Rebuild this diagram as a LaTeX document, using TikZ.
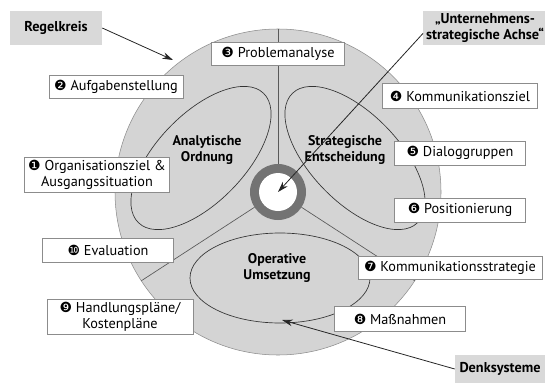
\documentclass[tikz,border=0pt]{standalone}
\usepackage{fontspec}
\setmainfont{PT Sans}
\newfontfamily\dingfont{DejaVu Sans}
\usepackage{tikz}
\usetikzlibrary{arrows.meta}

\newcommand{\nr}[1]{{\dingfont\fontsize{10.5}{11}\selectfont #1}}

\tikzset{
  kasten/.style={draw=black!45, fill=white, align=center, inner sep=2pt,
    font=\fontsize{10.7}{12}\selectfont},
  graukasten/.style={fill=black!15, align=center, inner sep=2pt,
    font=\bfseries\fontsize{10.7}{12}\selectfont},
  innen/.style={align=center, font=\bfseries\fontsize{10.5}{11.5}\selectfont},
  teiler/.style={draw=black!65, line width=0.5pt},
  pfeil/.style={-{Stealth[length=8pt,width=5pt]}, draw=black!85, line width=0.6pt},
}

\begin{document}
\begin{tikzpicture}[x=0.75pt,y=0.75pt]
\useasboundingbox (0,0) rectangle (545,383);

\begin{scope}
    \fill[black!17] (278,191) circle (163); % Kreis
    \draw[black!45] (278,191) circle (163);
\end{scope}

\begin{scope}[black!80, line width=0.5pt]
    \draw[rotate around={46:(201,225)}] (201,225) ellipse [x radius=90, y radius=44]; % analytisch
    \draw[rotate around={-46:(355,225)}] (355,225) ellipse [x radius=90, y radius=44]; % strategisch
    \draw (280,105) ellipse [x radius=90, y radius=45]; % operativ
\end{scope}

    \coordinate (mitte) at (278,191);
    \foreach \w in {90,213,327}
        \draw[teiler] (mitte) ++(\w:28) -- ++(\w:135);

    \fill[black!55] (mitte) circle (28); % Ring
    \fill[white] (mitte) circle (19);

    \node[innen] (analyt) at (207,233) {Analytische\\Ordnung};
    \node[innen] (strat) at (345,233) {Strategische\\Entscheidung};
    \node[innen] (oper) at (277,115) {Operative\\Umsetzung};

    \node[kasten, minimum width=109pt, minimum height=25.5pt] (p1) at (97,208) {\nr{❶} Organisationsziel \&\\Ausgangssituation};
    \node[kasten, minimum width=100.5pt, minimum height=17pt] (p2) at (116,296) {\nr{❷} Aufgabenstellung};
    \node[kasten, minimum width=100pt, minimum height=17pt] (p3) at (278,329) {\nr{❸} Problemanalyse};
    \node[kasten, minimum width=116pt, minimum height=19pt] (p4) at (460,287) {\nr{❹} Kommunikationsziel};
    \node[kasten, minimum width=98pt, minimum height=18pt] (p5) at (460,230) {\nr{❺} Dialoggruppen};
    \node[kasten, minimum width=98pt, minimum height=18pt] (p6) at (460,173) {\nr{❻} Positionierung};
    \node[kasten, minimum width=138pt, minimum height=17pt] (p7) at (450,115) {\nr{❼} Kommunikationsstrategie};
    \node[kasten, minimum width=98pt, minimum height=19pt] (p8) at (400,64) {\nr{❽} Maßnahmen};
    \node[kasten, minimum width=109.5pt, minimum height=26pt] (p9) at (120,66) {\nr{❾} Handlungspläne/\\Kostenpläne};
    \node[kasten, minimum width=98pt, minimum height=18pt] (p10) at (108,133) {\nr{❿} Evaluation};

    \node[graukasten, minimum width=69pt, minimum height=25pt] (regel) at (56,355) {Regelkreis};
    \node[graukasten, minimum width=90pt, minimum height=25pt] (achse) at (485,355) {„Unternehmens-\\strategische Achse“};
    \node[graukasten, minimum width=67.5pt, minimum height=21pt] (denk) at (500,14) {Denksysteme};

    \coordinate (kreisrand) at (173,323);
    \coordinate (ziel) at (282,63);

    \draw[pfeil] (regel.east) -- (kreisrand);
    \draw[pfeil] ([yshift=-4pt]achse.west) -- (mitte);
    \draw[pfeil] (denk.west) -- (ziel);

\end{tikzpicture}
\end{document}
